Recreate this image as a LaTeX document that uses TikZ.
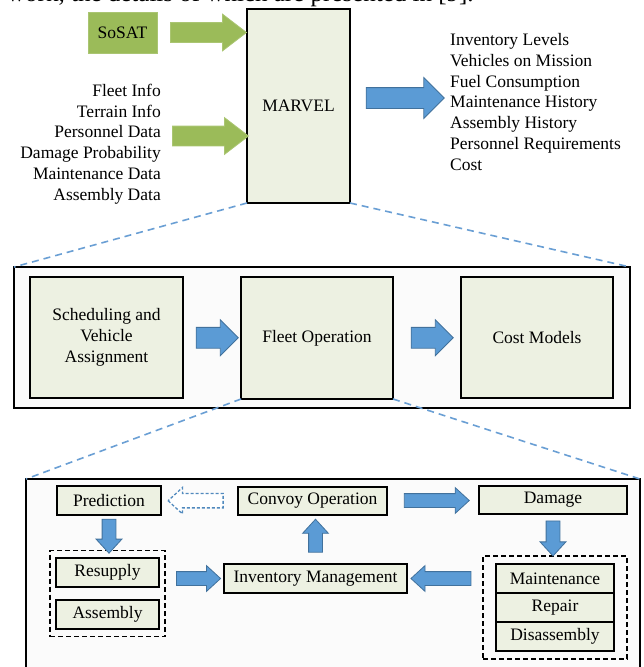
\documentclass[tikz,border=0pt]{standalone}
\usepackage{fontspec}
\setmainfont{Liberation Serif}
\usetikzlibrary{shapes.arrows, positioning, fit}
\definecolor{boxfill}{HTML}{EDF1E2}
\definecolor{inputgreen}{HTML}{9BBB59}
\definecolor{flowblue}{HTML}{5B9BD5}
\definecolor{flowedge}{HTML}{41719C}
\definecolor{zoomblue}{HTML}{6A9FD4}
\definecolor{framefill}{HTML}{FBFBFB}
\newcommand{\diagfont}{\fontsize{17.5}{20.8}\selectfont}
\tikzset{
x=1pt, y=-1pt, % one unit is one pixel of the figure, y grows downwards
block/.style={draw, line width=1.2pt, fill=boxfill, inner sep=0pt, outer sep=0pt, font=\diagfont}, % every box of the model
frame/.style={draw, line width=1.8pt, fill=framefill, inner sep=0pt, outer sep=0pt}, % zoomed-in level
group/.style={draw, dash pattern=on 5pt off 3pt, line width=1.2pt}, % dashed box round a few blocks
list/.style={inner sep=0pt, font=\diagfont}, % inputs and outputs of MARVEL
zoomline/.style={draw=zoomblue, line width=1.6pt, dash pattern=on 7pt off 5pt}, % lines to the next level
flow/.style={single arrow, outer sep=0pt, line width=0.8pt, draw=flowedge, fill=flowblue}, % block arrows, inner sep gives half the shaft
bigflow/.style={flow, inner sep=10pt, single arrow head extend=10pt},
midflow/.style={flow, inner sep=10pt, single arrow head extend=7.5pt},
smallflow/.style={flow, inner sep=6.5pt, single arrow head extend=6pt, single arrow tip angle=85},
ghostflow/.style={smallflow, draw=flowblue!60!flowedge, fill=white, line width=1.3pt, dash pattern=on 3pt off 2pt},
greenflow/.style={flow, draw=inputgreen!85!white, fill=inputgreen, inner sep=9.5pt, single arrow head extend=8.5pt, single arrow tip angle=75},
}

\begin{document}
\begin{tikzpicture}
  \useasboundingbox (0,0) rectangle (644,667);
  \clip (0,0) rectangle (644,667);
  \node[anchor=base west, inner sep=0pt, font=\fontsize{25}{30}\selectfont] (paperline) at (7,1) {work, the details of which are presented in [9].};

  % MARVEL with its inputs and outputs
  \node[block, line width=2pt, minimum width=103pt, minimum height=194pt] (marvel) at (298.5,106) {MARVEL};
  \node[block, draw=inputgreen!85!white, fill=inputgreen, line width=0.8pt, minimum width=69pt, minimum height=41pt] (sosat) at (122.5,32.5) {SoSAT};
  \node[list, align=right, anchor=east] (inlist) at (161,144) {Fleet Info\\Terrain Info\\Personnel Data\\Damage Probability\\Maintenance Data\\Assembly Data};
  \node[list, align=left, anchor=west] (outlist) at (450,102) {Inventory Levels\\Vehicles on Mission\\Fuel Consumption\\Maintenance History\\Assembly History\\Personnel Requirements\\Cost};
  \coordinate (indata) at (161,136);
  \coordinate (outdata) at (450,98);
  \path (sosat.east) -- node[greenflow, minimum height=76pt]{} (marvel.west |- sosat.east);
  \path (indata) -- node[greenflow, minimum height=76pt]{} (marvel.west |- indata);
  \path (marvel.east |- outdata) -- node[bigflow, minimum height=78pt]{} (outdata);

  % inside MARVEL
  \node[frame, minimum width=616pt, minimum height=141pt] (marvelframe) at (322,337.5) {};
  \node[block, minimum width=153pt, minimum height=121pt, align=center] (sched) at (106.5,337.5) {Scheduling and\\Vehicle\\Assignment};
  \node[block, line width=2pt, minimum width=152pt, minimum height=122pt] (fleetop) at (317,338) {Fleet Operation};
  \node[block, minimum width=152pt, minimum height=121pt] (cost) at (537,337.5) {Cost Models};
  \path (sched) -- node[midflow, minimum height=42pt]{} (fleetop);
  \path (fleetop) -- node[midflow, minimum height=42pt]{} (cost);

  % inside Fleet Operation
  \node[frame, anchor=north west, minimum width=614pt, minimum height=220pt] (fleetframe) at (26,479) {};
  \node[block, minimum width=104pt, minimum height=29pt] (pred) at (109,500.5) {Prediction};
  \node[block, minimum width=149pt, minimum height=28pt] (convoy) at (312.5,501) {Convoy Operation};
  \node[block, minimum width=148pt, minimum height=28pt] (damage) at (553,500) {Damage};
  \node[block, minimum width=103pt, minimum height=29pt] (resupply) at (107.5,572.5) {Resupply};
  \node[block, minimum width=103pt, minimum height=29pt, below=13pt of resupply] (assembly) {Assembly};
  \node[block, minimum width=183pt, minimum height=29pt] (inventory) at (315.5,578.5) {Inventory Management};
  \node[block, minimum width=118pt, minimum height=29pt] (maint) at (555,578.5) {Maintenance};
  \node[block, minimum width=118pt, minimum height=29pt, below=0pt of maint] (repair) {Repair};
  \node[block, minimum width=118pt, minimum height=29pt, below=0pt of repair] (disasm) {Disassembly};
  \node[group, fit=(resupply)(assembly), inner xsep=6pt, inner ysep=7.5pt] (leftgroup) {};
  \node[group, fit=(maint)(disasm), inner xsep=13pt, inner ysep=8pt] (rightgroup) {};
  \path (convoy) -- node[ghostflow, shape border rotate=180, minimum height=55pt]{} (pred);
  \path (convoy) -- node[smallflow, minimum height=65pt]{} (damage);
  \path (pred.south) -- node[smallflow, shape border rotate=270, minimum height=34pt]{} (pred.south |- leftgroup.north);
  \path (leftgroup.east |- inventory) -- node[smallflow, minimum height=44pt]{} (inventory);
  \path (inventory.north) -- node[smallflow, shape border rotate=90, minimum height=33pt]{} (inventory.north |- convoy.south);
  \path (damage.south) -- node[smallflow, shape border rotate=270, minimum height=35pt]{} (damage.south |- rightgroup.north);
  \path (rightgroup.west |- inventory) -- node[smallflow, shape border rotate=180, minimum height=60pt]{} (inventory);

  % zoom lines
  \draw[zoomline] (marvel.south west) -- (marvelframe.north west);
  \draw[zoomline] (marvel.south east) -- (marvelframe.north east);
  \draw[zoomline] (fleetop.south west) -- (fleetframe.north west);
  \draw[zoomline] (fleetop.south east) -- (fleetframe.north east);
\end{tikzpicture}
\end{document}
